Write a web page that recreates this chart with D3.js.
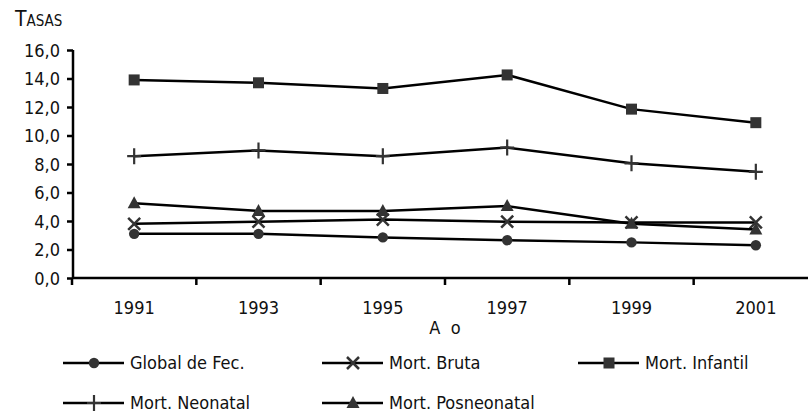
<!DOCTYPE html>
<html><head><meta charset="utf-8">
<script src="https://cdn.jsdelivr.net/npm/d3@7"></script>
<style>
body{margin:0;background:#fff;}
text{font-family:"DejaVu Sans Condensed","DejaVu Sans",sans-serif;font-stretch:condensed;fill:#111;}
</style></head>
<body><svg id="c" width="808" height="414"></svg>
<script>
const years = ["1991","1993","1995","1997","1999","2001"];
const yTicks = [0,2,4,6,8,10,12,14,16];
const globalFec = [3.1,3.1,2.85,2.65,2.5,2.3];
const mortBruta = [3.8,3.95,4.1,3.95,3.9,3.9];
const mortInfantil = [13.9,13.7,13.3,14.25,11.85,10.9];
const mortNeonatal = [8.55,8.95,8.55,9.15,8.05,7.45];
const mortPosneonatal = [5.25,4.7,4.7,5.05,3.8,3.4];
const seriesNames = ["Global de Fec.","Mort. Bruta","Mort. Infantil","Mort. Neonatal","Mort. Posneonatal"];
const seriesSymbols = ["circle","cross","square","plus","triangle"];
const seriesValues = [globalFec,mortBruta,mortInfantil,mortNeonatal,mortPosneonatal];

const FS = "18px";
const svg = d3.select("#c");
const x = d3.scaleBand().domain(years).range([72,818]);
const y = d3.scaleLinear().domain([0,16]).range([278,50]);
const fmt = v => d3.format(".1f")(v).replace(".",",");

// y axis
const ya = svg.append("g").attr("transform","translate(73,0)")
  .call(d3.axisLeft(y).tickValues(yTicks).tickFormat(fmt).tickSize(6).tickPadding(7));
ya.select(".domain").attr("stroke","#000").attr("stroke-width",2.5).attr("d","M0,50V278");
ya.selectAll(".tick line").attr("stroke","#000").attr("stroke-width",2.5);
ya.selectAll("text").style("font-size",FS).style("font-family",null).attr("fill","#111").attr("dy","0.35em");

// x axis
const xa = svg.append("g").attr("transform","translate(0,278)")
  .call(d3.axisBottom(x).tickSize(0).tickPadding(23));
xa.select(".domain").attr("stroke","#000").attr("stroke-width",2.5).attr("d","M72,0H818");
xa.selectAll("text").style("font-size",FS).attr("fill","#111");
xa.attr("font-family",null);
ya.attr("font-family",null);
xa.selectAll(".sep").data(years).enter().append("line").attr("class","sep")
  .attr("x1",d=>x(d)).attr("x2",d=>x(d)).attr("y1",0).attr("y2",7)
  .attr("stroke","#000").attr("stroke-width",2.5);

// titles
svg.append("text").attr("x",15).attr("y",26).style("font-size","21px")
  .style("font-variant","small-caps").text("Tasas");
svg.append("text").attr("x",445).attr("y",334).attr("text-anchor","middle")
  .style("font-size",FS).style("white-space","pre").attr("xml:space","preserve").text("A  o");

function drawSymbol(g, type, cx, cy){
  const fill="#333";
  if(type==="circle") g.append("circle").attr("cx",cx).attr("cy",cy).attr("r",5.2).attr("fill",fill);
  else if(type==="square") g.append("rect").attr("x",cx-5.5).attr("y",cy-5.5).attr("width",11).attr("height",11).attr("fill",fill);
  else if(type==="triangle") g.append("path").attr("d",`M${cx},${cy-7}L${cx+6.5},${cy+5}L${cx-6.5},${cy+5}Z`).attr("fill",fill);
  else if(type==="cross") g.append("path").attr("d",`M${cx-6},${cy-6}L${cx+6},${cy+6}M${cx-6},${cy+6}L${cx+6},${cy-6}`).attr("stroke",fill).attr("stroke-width",2.5);
  else if(type==="plus") g.append("path").attr("d",`M${cx-7},${cy}L${cx+7},${cy}M${cx},${cy-8}L${cx},${cy+8}`).attr("stroke",fill).attr("stroke-width",2.2);
}

const line = d3.line().x((d,i)=>x(years[i])+x.bandwidth()/2).y(d=>y(d));
seriesValues.forEach((vals,k)=>{
  const g = svg.append("g");
  g.append("path").datum(vals).attr("d",line).attr("fill","none").attr("stroke","#000").attr("stroke-width",2.5);
  vals.forEach((v,i)=>drawSymbol(g,seriesSymbols[k],x(years[i])+x.bandwidth()/2,y(v)));
});

// legend
const legendPos = [[63,363],[322,363],[578,363],[63,403],[322,403]];
seriesNames.forEach((name,k)=>{
  const [lx,ly] = legendPos[k];
  const g = svg.append("g");
  g.append("line").attr("x1",lx).attr("x2",lx+61).attr("y1",ly).attr("y2",ly).attr("stroke","#000").attr("stroke-width",2.5);
  drawSymbol(g,seriesSymbols[k],lx+31,ly);
  g.append("text").attr("x",lx+67).attr("y",ly).attr("dy","0.35em").style("font-size",FS).text(name);
});
</script></body></html>
